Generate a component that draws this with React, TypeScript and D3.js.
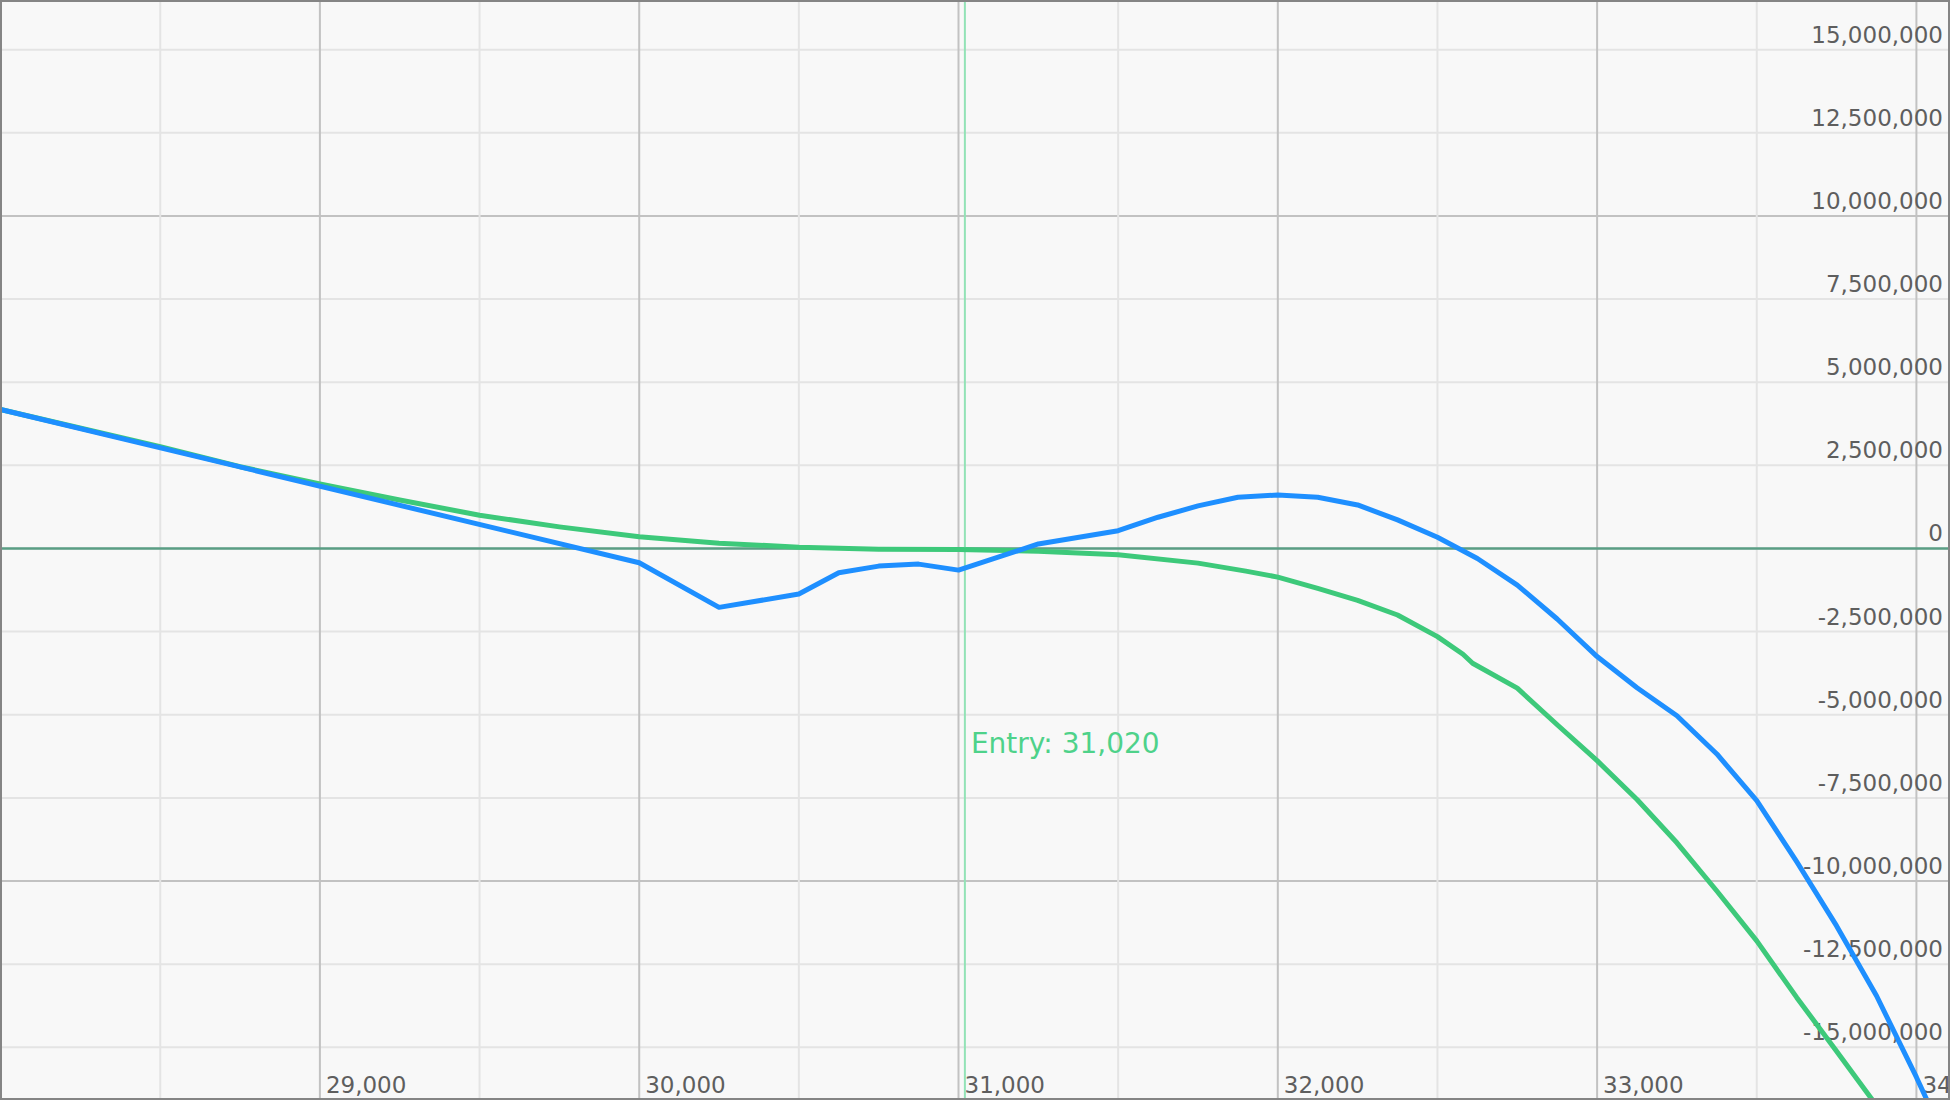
import React from "react";
import * as d3 from "d3";

const W = 1950;
const H = 1100;

// x positions (price) and series values (P&L)
const blueX = [28000, 30000, 30250, 30500, 30625, 30750, 30875, 31000, 31250, 31500, 31625, 31750, 31875, 32000, 32125, 32250, 32375, 32500, 32625, 32750, 32875, 33000, 33125, 33250, 33375, 33500, 33625, 33750, 33875, 34000, 34125];
const blueY = [4180000, -430000, -1770000, -1370000, -730000, -530000, -470000, -650000, 135000, 535000, 940000, 1280000, 1540000, 1610000, 1540000, 1310000, 860000, 340000, -300000, -1100000, -2120000, -3250000, -4190000, -5030000, -6180000, -7580000, -9420000, -11350000, -13450000, -15900000, -18500000];

const greenX = [28000, 28500, 28750, 29000, 29250, 29500, 29750, 30000, 30250, 30500, 30750, 31000, 31250, 31500, 31750, 31900, 32000, 32125, 32250, 32375, 32500, 32580, 32610, 32750, 32875, 33000, 33125, 33250, 33375, 33500, 33625, 33750, 33875, 34000];
const greenY = [4180000, 3060000, 2460000, 1940000, 1460000, 1000000, 650000, 350000, 160000, 40000, -20000, -30000, -80000, -190000, -440000, -680000, -860000, -1200000, -1560000, -2000000, -2650000, -3180000, -3450000, -4200000, -5300000, -6380000, -7550000, -8850000, -10300000, -11800000, -13500000, -15120000, -16750000, -18500000];

const xGridTicks = [28000, 28500, 29000, 29500, 30000, 30500, 31000, 31500, 32000, 32500, 33000, 33500, 34000];
const xTickLabels = [29000, 30000, 31000, 32000, 33000, 34000];
const yTicks = [-15000000, -12500000, -10000000, -7500000, -5000000, -2500000, 0, 2500000, 5000000, 7500000, 10000000, 12500000, 15000000];
const entryPrice = 31020;

export default function App() {
  const x = d3.scaleLinear().domain([27998.1, 34105.2]).range([0, W]);
  const y = d3.scaleLinear().domain([-16585000, 16494000]).range([H, 0]);
  const locale = d3.formatLocale({ decimal: ".", thousands: ",", grouping: [3], currency: ["", ""], minus: "-" });
  const fmt = locale.format(",");

  const line = d3
    .line<[number, number]>()
    .x((d) => x(d[0]))
    .y((d) => y(d[1]));

  const blueData: [number, number][] = blueX.map((v, i) => [v, blueY[i]]);
  const greenData: [number, number][] = greenX.map((v, i) => [v, greenY[i]]);

  const font = "'DejaVu Sans', Verdana, sans-serif";

  return (
    <div style={{ position: "fixed", left: 0, top: 0, width: W, height: H }}>
      <svg width={W} height={H} style={{ display: "block" }}>
        <defs>
          <clipPath id="plotclip">
            <rect x={0} y={0} width={W} height={H} />
          </clipPath>
        </defs>
        <rect x={0} y={0} width={W} height={H} fill="#f8f8f8" />
        {/* horizontal grid */}
        {yTicks.map((t) => (
          <line
            key={"hy" + t}
            x1={0}
            x2={W}
            y1={y(t)}
            y2={y(t)}
            stroke={t % 10000000 === 0 && t !== 0 ? "#c2c2c2" : "#e4e4e4"}
            strokeWidth={2}
          />
        ))}
        {/* vertical grid */}
        {xGridTicks.map((t) => (
          <line
            key={"vx" + t}
            x1={x(t)}
            x2={x(t)}
            y1={0}
            y2={H}
            stroke={t % 1000 === 0 ? "#c2c2c2" : "#e4e4e4"}
            strokeWidth={2}
          />
        ))}
        {/* y labels */}
        {yTicks.map((t) => (
          <text
            key={"yl" + t}
            x={1943}
            y={y(t) - 7}
            textAnchor="end"
            fontFamily={font}
            fontSize={23}
            fill="#5e5e5e"
          >
            {fmt(t)}
          </text>
        ))}
        {/* x labels */}
        {xTickLabels.map((t) => (
          <text
            key={"xl" + t}
            x={x(t) + 6}
            y={1093}
            fontFamily={font}
            fontSize={23}
            fill="#5e5e5e"
          >
            {fmt(t)}
          </text>
        ))}
        {/* zero line */}
        <line x1={0} x2={W} y1={y(0)} y2={y(0)} stroke="#5a9e84" strokeWidth={2.5} />
        {/* entry line */}
        <line x1={x(entryPrice)} x2={x(entryPrice)} y1={0} y2={H} stroke="#93e2b6" strokeWidth={2} />
        <text
          x={x(entryPrice) + 6}
          y={753}
          fontFamily={font}
          fontSize={28}
          fill="#4ed28a"
        >
          {"Entry: " + fmt(entryPrice)}
        </text>
        <g clipPath="url(#plotclip)">
          <path d={line(greenData) || ""} fill="none" stroke="#3dc97a" strokeWidth={5} strokeLinejoin="round" />
          <path d={line(blueData) || ""} fill="none" stroke="#1e8fff" strokeWidth={5} strokeLinejoin="round" />
        </g>
        {/* frame */}
        <rect x={1} y={1} width={W - 2} height={H - 2} fill="none" stroke="#858585" strokeWidth={2} />
      </svg>
    </div>
  );
}
